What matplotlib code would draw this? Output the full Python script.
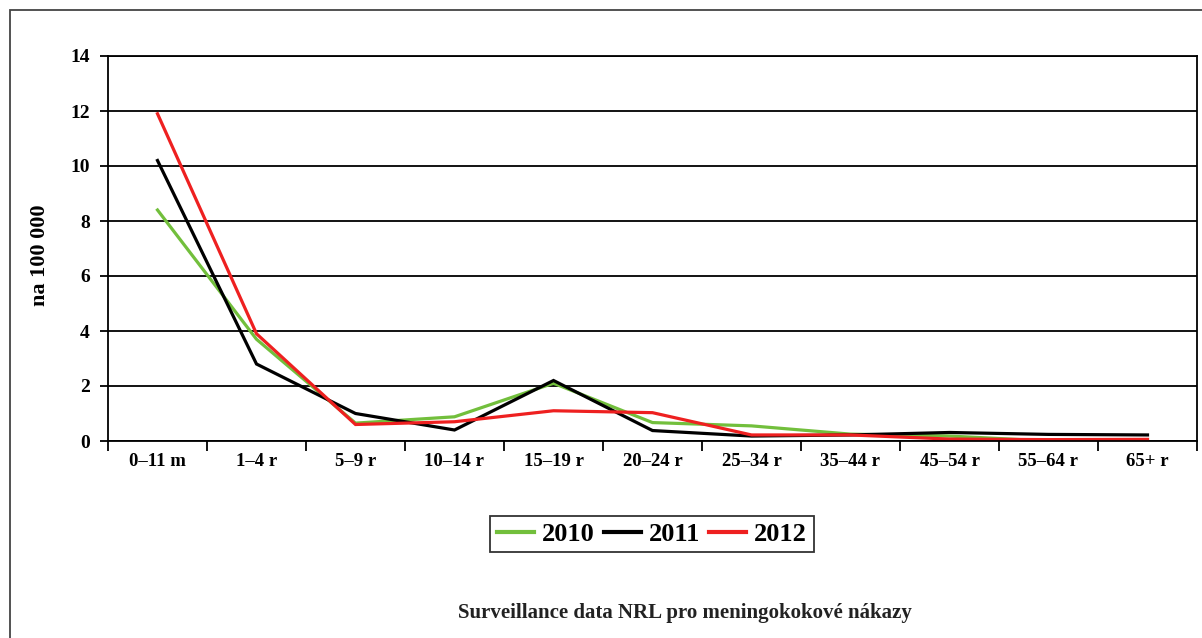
import matplotlib.pyplot as plt
from matplotlib.patches import Rectangle
import numpy as np

# kategorie vekovych skupin
vek = ["0–11 m", "1–4 r", "5–9 r", "10–14 r", "15–19 r", "20–24 r",
       "25–34 r", "35–44 r", "45–54 r", "55–64 r", "65+ r"]

# incidence na 100 000
r2010 = [8.4, 3.7, 0.65, 0.88, 2.1, 0.67, 0.55, 0.25, 0.18, 0.0, 0.05]
r2011 = [10.2, 2.8, 1.0, 0.4, 2.2, 0.38, 0.18, 0.22, 0.31, 0.24, 0.22]
r2012 = [11.9, 3.9, 0.6, 0.7, 1.1, 1.03, 0.22, 0.22, 0.07, 0.05, 0.06]

roky = ["2010", "2011", "2012"]
barvy = ["#72bf3c", "#000000", "#ee2020"]

plt.rcParams['font.family'] = ['Liberation Serif', 'DejaVu Serif']

fig = plt.figure(figsize=(12.02, 6.38), dpi=100)
ax = fig.add_axes([108 / 1202, 1 - 441 / 638, (1197 - 108) / 1202, (441 - 56) / 638])

x = np.arange(len(vek))
for serie, rok, barva in zip([r2010, r2011, r2012], roky, barvy):
    ax.plot(x, serie, color=barva, lw=2.3, label=rok, solid_joinstyle='miter')

ax.set_xlim(-0.5, len(vek) - 0.5)
ax.set_ylim(0, 14)
ax.set_yticks(range(0, 15, 2))
ax.yaxis.grid(True, color='black', lw=1.3)
ax.set_axisbelow(True)
for s in ax.spines.values():
    s.set_linewidth(1.3)

# hranice kategorii jako hlavni znacky, popisky uprostred
ax.set_xticks(np.arange(-0.5, len(vek), 1.0))
ax.set_xticklabels([])
ax.set_xticks(x, minor=True)
ax.set_xticklabels(vek, minor=True, fontsize=13.5, fontweight='bold')
ax.tick_params(axis='x', which='major', length=7, width=1.3, direction='out')
ax.tick_params(axis='x', which='minor', length=0, pad=9)
ax.tick_params(axis='y', length=6, width=1.3, pad=7, labelsize=14)
for t in ax.get_yticklabels():
    t.set_fontweight('bold')

fig.text(40 / 1202, 1 - 255 / 638, "na 100 000", rotation=90, ha='center', va='center',
         fontsize=16, fontweight='bold')

leg = fig.legend(loc='center', bbox_to_anchor=(652 / 1202, 1 - 534 / 638), ncol=3,
                 frameon=True, fancybox=False, edgecolor='black', handlelength=1.4,
                 columnspacing=0.35, handletextpad=0.3, borderpad=0.25, borderaxespad=0,
                 prop={'size': 19, 'weight': 'bold'})
leg.get_frame().set_linewidth(1.3)
for l in leg.get_lines():
    l.set_linewidth(3)

fig.text(685 / 1202, 1 - 613 / 638, "Surveillance data NRL pro meningokokové nákazy",
         ha='center', va='center', fontsize=15, fontweight='bold', color='#222222')

# ramecek kolem obrazku
fig.patches.append(Rectangle((9.5 / 1202, -0.1), 1.2, 1 - 10 / 638 + 0.1,
                             transform=fig.transFigure, fill=False,
                             edgecolor='#444444', lw=1.3))

fig.savefig("out.png", dpi=100)
